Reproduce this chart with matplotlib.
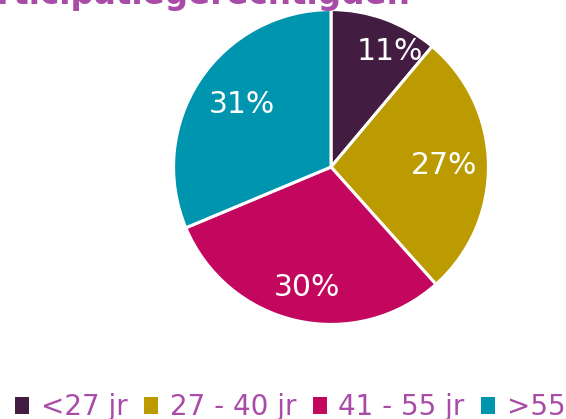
import numpy as np
import matplotlib
matplotlib.use("Agg")
import matplotlib.pyplot as plt
from matplotlib.patches import Rectangle

title = "Participatiegerechtigden"
categories = ["<27 jr", "27 - 40 jr", "41 - 55 jr", ">55 jr"]
values = [11, 27, 30, 31]
pct_labels = ["11%", "27%", "30%", "31%"]
colors = ["#421d41", "#bb9b00", "#c3075f", "#0095ae"]
label_dist = [0.82, 0.72, 0.78, 0.69]
label_shift = [-7, 0, 1.5, -1.5]  # degrees, nudges the labels like the original

text_color = "#a84ca8"
W, H = 566, 419

fig = plt.figure(figsize=(W / 100, H / 100), dpi=100)

# pie: centre (331, 167) px, radius ~159 px
cx, cy, r = 331, 167, 159
ax = fig.add_axes([(cx - r) / W, (H - cy - r) / H, 2 * r / W, 2 * r / H])
wedges, _ = ax.pie(values, colors=colors, startangle=90, counterclock=False,
                   wedgeprops=dict(edgecolor="white", linewidth=2.2))
ax.set_xlim(-1.01, 1.01)
ax.set_ylim(-1.01, 1.01)
ax.set_aspect("equal")
ax.axis("off")

for i, (w, lab, d, s) in enumerate(zip(wedges, pct_labels, label_dist, label_shift)):
    w.set_zorder(1 + 2 * i)
    ang = np.deg2rad((w.theta1 + w.theta2) / 2 + s)
    ax.text(d * np.cos(ang), d * np.sin(ang), lab, color="white",
            fontsize=21.5, ha="center", va="center", zorder=2 + 2 * i)

# title, clipped at top-left like the reference
fig.text(-48 / W, 1 - 4 / H, title, color=text_color, fontsize=23.5,
         fontweight="bold", ha="left", va="baseline")

handles = [Rectangle((0, 0), 1, 1, facecolor=c, edgecolor="none") for c in colors]
leg = fig.legend(handles, categories, loc="center", ncol=4,
                 bbox_to_anchor=(304.5 / W, 1 - 407 / H), frameon=False,
                 fontsize=20, handlelength=0.5, handleheight=0.55,
                 handletextpad=0.42, columnspacing=0.6, borderpad=0,
                 borderaxespad=0)
for t in leg.get_texts():
    t.set_color(text_color)

fig.savefig("out.png", dpi=100)
